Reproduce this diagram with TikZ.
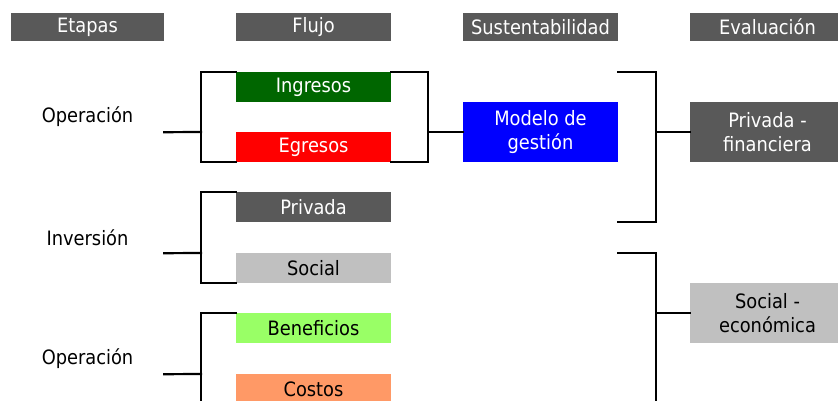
\documentclass[tikz,border=0pt]{standalone}
\usepackage{fontspec}
\setmainfont{DejaVu Sans Condensed}
\definecolor{hdr}{HTML}{595959}
\definecolor{ingc}{HTML}{006600}
\definecolor{egrc}{HTML}{FF0000}
\definecolor{modc}{HTML}{0000FF}
\definecolor{socc}{HTML}{C0C0C0}
\definecolor{benc}{HTML}{99FF66}
\definecolor{cosc}{HTML}{FF9966}
\begin{document}
\begin{tikzpicture}[x=1pt,y=-1pt,
  txt/.style={font=\fontsize{19.8}{24.5}\selectfont},
  box/.style={txt, rectangle, inner sep=0pt, minimum width=155pt, minimum height=30pt, align=center, anchor=center},
  hdrbox/.style={box, minimum height=28pt, fill=hdr, text=white},
  tallbox/.style={box, minimum height=60pt},
  stage/.style={txt, rectangle, inner sep=0pt, minimum width=153pt, minimum height=30pt, anchor=center},
  link/.style={line width=2.2pt, line cap=rect}]
\useasboundingbox (0,0) rectangle (838,401);
\clip (0,0) rectangle (838,401);
% headers
\node[hdrbox, minimum width=153pt] (hEt) at (87.5,27) {Etapas};
\node[hdrbox] (hFl) at (313.5,27) {Flujo};
\node[hdrbox] (hSu) at (540.5,27) {Sustentabilidad};
\node[hdrbox] (hEv) at (767.5,27) {Evaluación};
% flow boxes
\node[box, fill=ingc, text=white] (ing) at (313.5,87) {Ingresos};
\node[box, fill=egrc, text=white] (egr) at (313.5,147) {Egresos};
\node[box, fill=hdr, text=white] (priv) at (313.5,207) {Privada};
\node[box, fill=socc] (soc) at (313.5,268) {Social};
\node[box, fill=benc] (ben) at (313.5,328) {Beneficios};
\node[box, fill=cosc] (cos) at (313.5,389) {Costos};
% sustainability / evaluation
\node[tallbox, fill=modc, text=white] (mod) at (540.5,132) {Modelo de\\gestión};
\node[tallbox, fill=hdr, text=white] (pf) at (767.5,132) {Privada -\\financiera};
\node[tallbox, fill=socc] (se) at (767.5,313) {Social -\\económica};
% stages
\node[stage] (op1) at (87.5,117) {Operación};
\node[stage] (inv) at (87.5,238) {Inversión};
\node[stage] (op2) at (87.5,359) {Operación};
% bracket coordinates
\coordinate (b1) at (201,132);
\coordinate (b2) at (428,132);
\coordinate (b5) at (201,253);
\coordinate (b6) at (201,374);
\coordinate (b3) at (656,132);
\coordinate (b4) at (656,313);
\coordinate (e1t) at (mod.east |- ing.north);
\coordinate (e1b) at (mod.east |- priv.south);
\coordinate (e2t) at (mod.east |- soc.north);
\coordinate (e2b) at (mod.east |- cos.south);
% connectors
\draw[link] (op1.south east) -- (b1);
\draw[link] (ing.north west) -| (b1) |- (egr.south west);
\draw[link] (ing.north east) -| (b2) |- (egr.south east);
\draw[link] (b2) -- (mod.west);
\draw[link] (inv.south east) -- (b5);
\draw[link] (priv.north west) -| (b5) |- (soc.south west);
\draw[link] (op2.south east) -- (b6);
\draw[link] (ben.north west) -| (b6) |- (cos.south west);
\draw[link] (e1t) -| (b3) |- (e1b);
\draw[link] (b3) -- (pf.west);
\draw[link] (e2t) -| (b4) |- (e2b);
\draw[link] (b4) -- (se.west);
\end{tikzpicture}
\end{document}
